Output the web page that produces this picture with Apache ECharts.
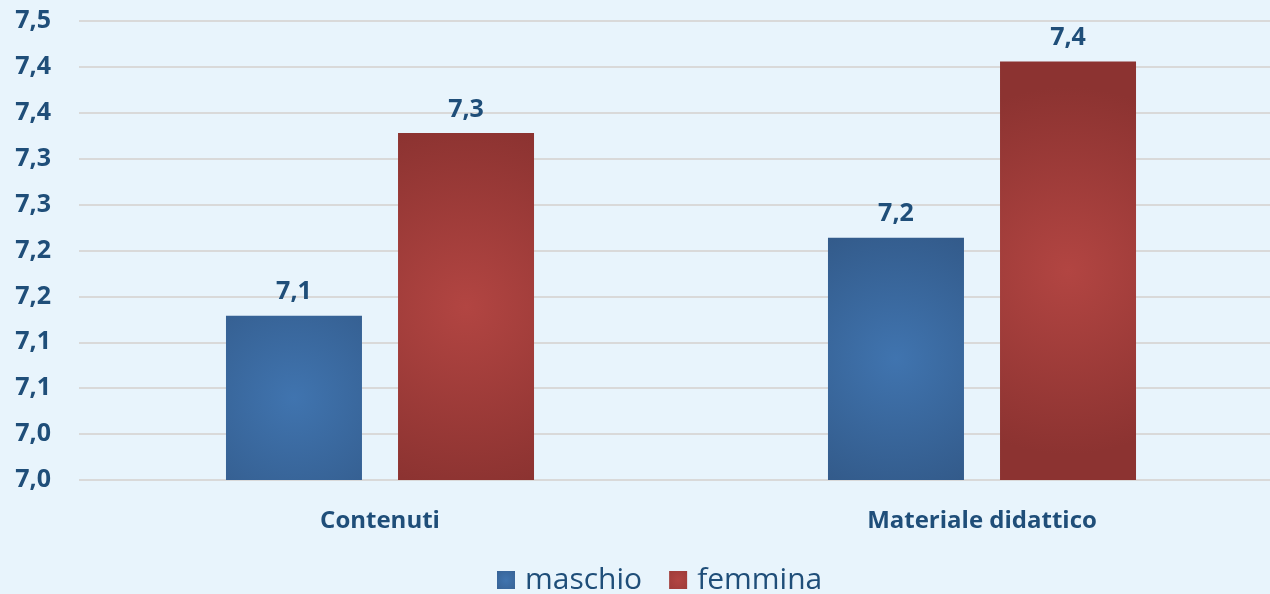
<!DOCTYPE html>
<html>
<head>
<meta charset="utf-8">
<script src="https://cdn.jsdelivr.net/npm/echarts@6/dist/echarts.min.js"></script>
<style>
  html,body{margin:0;padding:0;background:#E8F4FC;overflow:hidden;}
  #chart{width:1283px;height:594px;}
</style>
</head>
<body>
<div id="chart"></div>
<script>
var categories = ['Contenuti', 'Materiale didattico'];
var seriesNames = ['maschio', 'femmina'];
var maschio = [7.179, 7.264];
var femmina = [7.378, 7.456];

var textColor = '#1F4E79';
// valori troncati a una cifra decimale, virgola come separatore
function fmt(v){
    return (Math.floor(v * 10 + 1e-6) / 10).toFixed(1).replace('.', ',');
}
function radial(inner, outer, r){
    return new echarts.graphic.RadialGradient(0.5, 0.5, r, [
        {offset: 0, color: inner},
        {offset: 1, color: outer}
    ]);
}

// il grafico originale è tagliato a destra: il contenitore è più largo della finestra
var myChart = echarts.init(document.getElementById('chart'));
var option = {
    backgroundColor: '#E8F4FC',
    textStyle: {fontFamily: 'Open Sans'},
    grid: {left: 79, right: 0, top: 21, bottom: 114},
    legend: {
        data: seriesNames,
        top: 560,
        left: 492,
        itemWidth: 18,
        itemHeight: 18,
        itemGap: 27,
        icon: 'rect',
        textStyle: {fontSize: 30, color: textColor, fontFamily: 'Open Sans', padding: [0, 0, 0, 5]}
    },
    xAxis: {
        type: 'category',
        data: categories,
        axisLine: {show: false},
        axisTick: {show: false},
        axisLabel: {fontSize: 24, fontWeight: 'bold', color: textColor, margin: 29}
    },
    yAxis: {
        type: 'value',
        min: 7.0,
        max: 7.5,
        interval: 0.05,
        axisLine: {show: false},
        axisTick: {show: false},
        splitLine: {lineStyle: {color: '#D9D9D9', width: 2}},
        axisLabel: {
            fontSize: 25, fontWeight: 'bold', color: textColor, margin: 28,
            formatter: function(v){ return fmt(v); }
        }
    },
    series: [{
        name: seriesNames[0],
        type: 'bar',
        data: maschio,
        barWidth: 136,
        barGap: '26.5%',
        itemStyle: {color: radial('#4074AF', '#335B8B', 1.0)},
        label: {
            show: true, position: 'top', distance: 11,
            fontSize: 25, fontWeight: 'bold', color: textColor,
            formatter: function(p){ return fmt(p.value); }
        }
    }, {
        name: seriesNames[1],
        type: 'bar',
        data: femmina,
        barWidth: 136,
        itemStyle: {color: radial('#B24542', '#8C3331', 1.35)},
        label: {
            show: true, position: 'top', distance: 11,
            fontSize: 25, fontWeight: 'bold', color: textColor,
            formatter: function(p){ return fmt(p.value); }
        }
    }]
};
myChart.setOption(option);
</script>
</body>
</html>
